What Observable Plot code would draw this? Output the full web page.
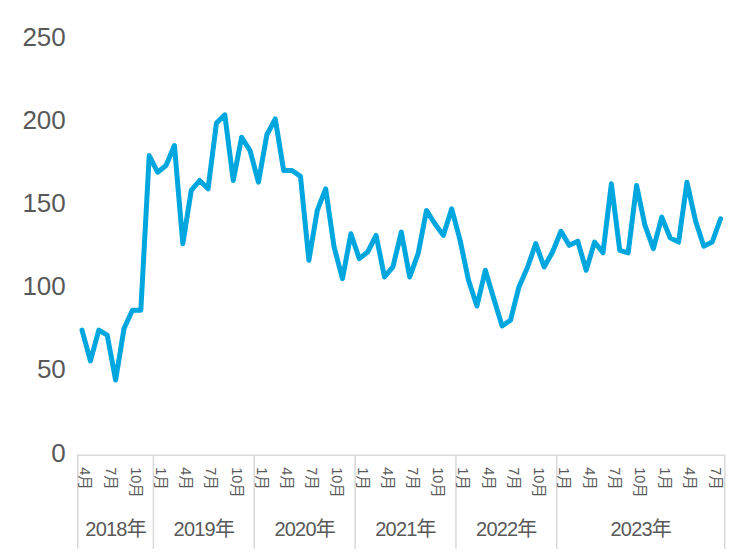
<!DOCTYPE html>
<html><head><meta charset="utf-8">
<script src="https://cdn.jsdelivr.net/npm/d3@7"></script>
<script src="https://cdn.jsdelivr.net/npm/@observablehq/plot@0.6"></script>
<style>body{margin:0;background:#fff} svg{display:block} .yearlab text{letter-spacing:-0.04em}</style>
</head><body><div id="chart"></div>
<script>
// Monthly values, 2018-04 .. 2024-08
const values = [
  74, 55.5, 74, 71, 44, 75, 86, 86, 179,
  169, 173, 185, 126, 158, 164, 159, 198.5, 203.5, 164, 190, 182,
  163, 191.5, 201, 170, 170, 166.5, 116, 146, 159, 124, 105, 132,
  117, 121, 131, 106, 112, 133, 106, 120, 146, 138, 131, 147,
  128, 104, 88.5, 110, 93, 76.5, 80, 100, 111.5, 126, 112, 121,
  133.5, 125, 127.5, 110, 127, 120.5, 162, 122, 120.5, 161, 137, 123,
  142, 129.5, 127, 163, 140, 124.5, 127, 141
];
const startMonth = 4;
const yearLabels = ["2018年", "2019年", "2020年", "2021年", "2022年", "2023年"];
const yearSpans = [9, 12, 12, 12, 12, 20];
const monthTickLabels = [
  "4月", "7月", "10月",
  "1月", "4月", "7月", "10月",
  "1月", "4月", "7月", "10月",
  "1月", "4月", "7月", "10月",
  "1月", "4月", "7月", "10月",
  "1月", "4月", "7月", "10月",
  "1月", "4月", "7月"
];
const yTicks = [0, 50, 100, 150, 200, 250];

const data = values.map((v, i) => ({i, x: i + 0.5, v}));
const monthOf = i => ((i + startMonth - 1) % 12) + 1;
const tickRows = data.filter(d => [1, 4, 7, 10].includes(monthOf(d.i)));
const monthTicks = tickRows.map((d, k) => ({x: d.x, label: monthTickLabels[k]}));
let start = 0;
const groups = yearLabels.map((label, k) => {
  const g = {label, x0: start, x1: start + yearSpans[k]};
  start += yearSpans[k];
  return g;
});
const boundaries = [0, ...groups.map(g => g.x1)];
const n = values.length;

const font = "'Liberation Sans', 'Noto Sans CJK JP', sans-serif";
const grey = "#595959";

const chart = Plot.plot({
  width: 735, height: 558,
  marginLeft: 77.3, marginRight: 10.7, marginTop: 37, marginBottom: 105.3,
  x: {domain: [0, n], axis: null},
  y: {domain: [0, 250], axis: null},
  style: {fontFamily: font, background: "#fff", overflow: "visible"},
  marks: [
    Plot.axisY({ticks: yTicks, tickSize: 0, tickPadding: 12, fontSize: 26, fill: grey, label: null, tickFormat: d => String(d)}),
    Plot.ruleY([0], {dy: 2, stroke: "#d9d9d9", strokeWidth: 1.5}),
    Plot.ruleX(boundaries, {y1: 0, y2: -56.5, dy: 2, stroke: "#d9d9d9", strokeWidth: 1.5}),
    Plot.text(monthTicks, {x: "x", y: () => 0, text: "label", rotate: 90, textAnchor: "start", dy: 14, dx: 3, fontSize: 14.5, fill: grey}),
    Plot.text(groups, {x: d => (d.x0 + d.x1) / 2, y: () => 0, text: "label", dy: 76.5, fontSize: 20, fill: grey, className: "yearlab"}),
    Plot.line(data, {x: "x", y: "v", stroke: "#00a6de", strokeWidth: 5, strokeLinejoin: "round", strokeLinecap: "round"})
  ]
});
document.getElementById("chart").append(chart);
</script>
</body></html>
